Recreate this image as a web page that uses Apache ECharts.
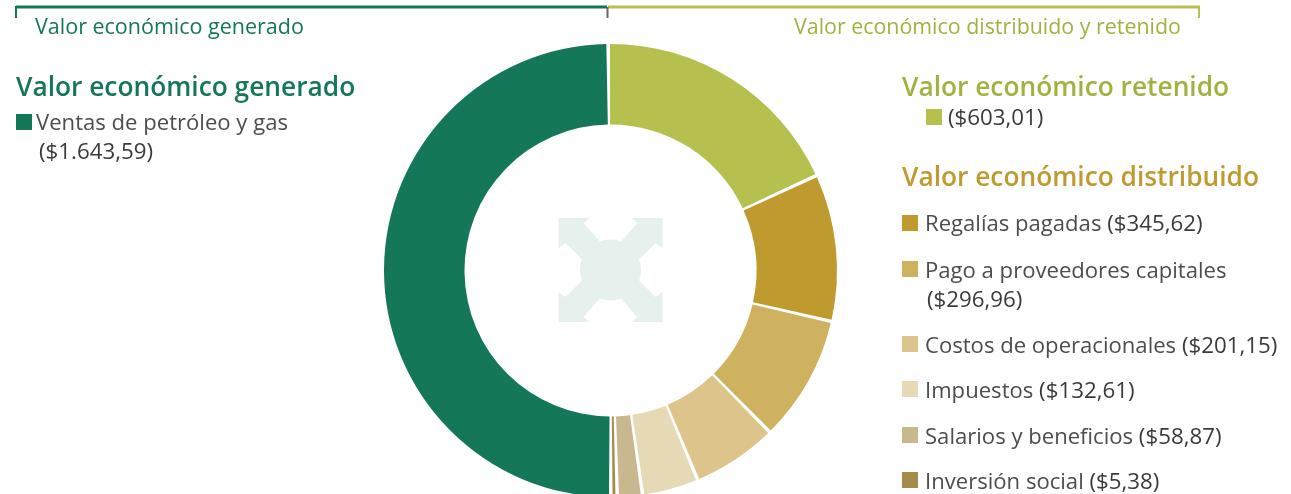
<!DOCTYPE html>
<html><head><meta charset="utf-8">
<style>html,body{margin:0;padding:0;background:#fff}#c{width:1291px;height:494px}</style>
<script src="https://cdn.jsdelivr.net/npm/echarts@6/dist/echarts.min.js"></script>
</head><body><div id="c"></div>
<script>
const categories = ['Valor económico retenido','Regalías pagadas','Pago a proveedores capitales','Costos de operacionales','Impuestos','Salarios y beneficios','Inversión social','Ventas de petróleo y gas'];
const values = [603.01,345.62,296.96,201.15,132.61,58.87,5.38,1643.59];
const colors = ['#b6c04f','#bf9a2e','#ceb25f','#dcc48b','#e6d9b5','#c8b78f','#a58c4a','#14775a'];
const headings = ['Valor económico generado','Valor económico retenido','Valor económico distribuido'];
const brackets = ['Valor económico generado','Valor económico distribuido y retenido'];

const FONT='Open Sans', TXT='#4d4d4d', VAL='#3a3a3a';
const money=i=>'($'+values[i].toLocaleString('de-DE',{minimumFractionDigits:2,maximumFractionDigits:2})+')';
const chart=echarts.init(document.getElementById('c'),null,{renderer:'canvas'});
const g=[];
const line=(x1,y1,x2,y2,c,w)=>g.push({type:'line',shape:{x1,y1,x2,y2},style:{stroke:c,lineWidth:w},silent:true});
const text=(x,y,t,opt)=>g.push({type:'text',x,y,silent:true,style:Object.assign({text:t,fontFamily:FONT,verticalAlign:'middle',align:'left'},opt)});
const head=(x,y,t,c)=>text(x,y,t,{fontSize:26.3,fontWeight:600,fill:c});
const rich={l:{fontFamily:FONT,fontSize:22.1,fill:TXT,fontWeight:400},v:{fontFamily:FONT,fontSize:22.3,fill:VAL,fontWeight:500}};
const sw=(x,y,c)=>g.push({type:'rect',shape:{x,y,width:16,height:16},style:{fill:c},silent:true});
const entry=(i,x,y,tx,ty)=>{sw(x,y,colors[i]);text(tx,ty,'{l|'+categories[i]+' }{v|'+money(i)+'}',{rich});};

// brackets
line(16,7,607,7,'#14775a',3); line(16,6,16,18,'#14775a',2);
line(608,7,1200,7,'#b6c04f',3); line(1199,6,1199,18,'#b6c04f',2); line(607.5,7,607.5,18,'#666',2);
text(35,28,brackets[0],{fontSize:21.5,fill:'#14775a'});
text(794,28,brackets[1],{fontSize:21.4,fill:'#a5b13f'});

// left block
head(16,89,headings[0],'#14775a');
sw(16,114,colors[7]);
text(36,124,'{l|'+categories[7]+'}',{rich});
text(39,153,'{v|'+money(7)+'}',{rich});

// right block
head(902,89,headings[1],'#a5b13f');
sw(926,109,colors[0]);
text(948,119,'{v|'+money(0)+'}',{rich});
head(902,179,headings[2],'#bf9a2e');
entry(1,902,215,925,225);
sw(902,261,colors[2]); text(925,272,'{l|'+categories[2]+'}',{rich}); text(927,301,'{v|'+money(2)+'}',{rich});
entry(3,902,336,925,347);
entry(4,902,381,925,392);
entry(5,902,427,925,438);
entry(6,902,472,925,483);

// centre watermark
const cx=610.5,cy=270;
g.push({type:'circle',shape:{cx,cy,r:30.5},style:{fill:'#e6f0ec'},silent:true});
const arm=[[-52,-52],[-21,-52],[-27,-47],[-11,-29],[-28,-10],[-45,-27],[-52,-22]];
[[1,1],[-1,1],[1,-1],[-1,-1]].forEach(([a,b])=>g.push({type:'polygon',shape:{points:arm.map(p=>[cx+a*p[0],cy+b*p[1]])},style:{fill:'#e6f0ec'},silent:true}));

chart.setOption({
  animation:false,
  graphic:{elements:g},
  series:[{type:'pie',center:[610.5,270.5],radius:[146,226.5],startAngle:90.6,clockwise:true,
    padAngle:0.9,minAngle:0.75,
    label:{show:false},labelLine:{show:false},silent:true,
    data:categories.map((name,i)=>({name,value:values[i],itemStyle:{color:colors[i]}}))}]
});
</script></body></html>
